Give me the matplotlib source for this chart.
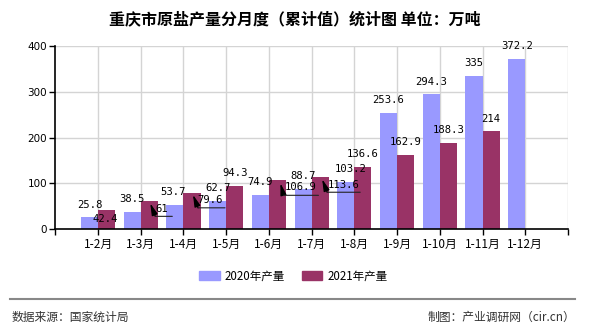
import numpy as np
import matplotlib
matplotlib.use('Agg')
import matplotlib.pyplot as plt
from matplotlib.transforms import offset_copy
from matplotlib.patches import Patch
from matplotlib.lines import Line2D

plt.rcParams['font.family'] = ['Noto Sans CJK SC', 'DejaVu Sans']

# ---------------- data ----------------
categories = ['1-2月', '1-3月', '1-4月', '1-5月', '1-6月', '1-7月',
              '1-8月', '1-9月', '1-10月', '1-11月', '1-12月']
v2020 = [25.8, 38.5, 53.7, 62.7, 74.9, 88.7, 103.2, 253.6, 294.3, 335, 372.2]
v2021 = [42.4, 61, 79.6, 94.3, 106.9, 113.6, 136.6, 162.9, 188.3, 214]
series_names = ['2020年产量', '2021年产量']
yticks = [0, 100, 200, 300, 400]
title = '重庆市原盐产量分月度（累计值）统计图 单位：万吨'
source = '数据来源：国家统计局'
credit = '制图：产业调研网（cir.cn）'

# ---------------- style ----------------
c2020 = '#9999FF'
c2021 = '#993366'
grid_c = '#d4d4d4'
W, H = 590, 330

fig = plt.figure(figsize=(W / 100, H / 100), dpi=100)
ax_l, ax_r, ax_t, ax_b = 55.3, 568, 46, 229.3
ax = fig.add_axes([ax_l / W, 1 - ax_b / H, (ax_r - ax_l) / W, (ax_b - ax_t) / H])

x = np.arange(len(categories))
w = 0.4
ax.set_xlim(-1, len(categories))
ax.set_ylim(yticks[0], yticks[-1])

# grid
ax.hlines(yticks[1:], -1, len(categories), color=grid_c, lw=1, zorder=0)
ax.vlines(np.arange(0, len(categories) + 1), 0, yticks[-1], color=grid_c, lw=1, zorder=0)

x21 = x[:len(v2021)]
ax.bar(x - w / 2, v2020, w, color=c2020, zorder=2, linewidth=0)
ax.bar(x21 + w / 2, v2021, w, color=c2021, zorder=2, linewidth=0)

for s in ['top', 'right']:
    ax.spines[s].set_visible(False)
for s in ['left', 'bottom']:
    ax.spines[s].set_color('black')
    ax.spines[s].set_linewidth(1.2)
    ax.spines[s].set_zorder(3)

ax.set_yticks(yticks)
ax.set_yticklabels([str(t) for t in yticks], family='DejaVu Sans', fontsize=7.5)
ax.set_xticks(np.arange(-1, len(categories) + 1))
ax.set_xticklabels([''] + categories + [''], fontsize=8.5)
ax.tick_params(axis='both', direction='out', length=4, width=1, color='black', labelcolor='black')
ax.tick_params(axis='y', pad=2)
ax.tick_params(axis='x', pad=2)

# ---------------- value labels ----------------
lab_font = dict(family='DejaVu Sans Mono', fontsize=7.6, color='black')
PX = 0.72  # points per pixel
normal_up = 12.7  # px above bar top (label center)

# special placements (pixel offsets from bar top-center, +right, +down)
shift2020 = {2: (-2, 0), 6: (4.5, 0)}
down2021 = {0: (-1, 9)}
leader2021 = {  # text(dx,dy), tip(dx,dy), corner(dx,dy), end dx
    1: ((12, 8), (1, 2), (6, 15), 23),
    2: ((18, 7), (1, 2), (6, 15), 33),
    4: ((23, 7), (3, 3), (6, 15), 41),
    5: ((23, 8), (2, 2), (7, 15), 40),
}


def off(dx, dy):
    return offset_copy(ax.transData, fig=fig, x=dx, y=-dy, units='dots')


for i, v in enumerate(v2020):
    xc = x[i] - w / 2
    dx, dy = shift2020.get(i, (0, 0))
    ax.annotate(f'{v:g}', (xc, v), xytext=(dx * PX, (normal_up - dy) * PX),
                textcoords='offset points', ha='center', va='center', zorder=5, **lab_font)

for i, v in enumerate(v2021):
    xc = x21[i] + w / 2
    if i in leader2021:
        (tdx, tdy), (pdx, pdy), (cdx, cdy), edx = leader2021[i]
        ax.annotate(f'{v:g}', (xc, v), xytext=(tdx * PX, -tdy * PX),
                    textcoords='offset points', ha='center', va='center', zorder=5, **lab_font)
        ax.annotate('', xy=(xc, v), xycoords=off(pdx, pdy),
                    xytext=(xc, v), textcoords=off(cdx, cdy),
                    arrowprops=dict(arrowstyle='-|>,head_length=0.7,head_width=0.18',
                                    color='black', lw=0.9, shrinkA=0, shrinkB=0),
                    zorder=5)
        ax.annotate('', xy=(xc, v), xycoords=off(edx, cdy),
                    xytext=(xc, v), textcoords=off(cdx, cdy),
                    arrowprops=dict(arrowstyle='-', color='#222222', lw=0.8,
                                    shrinkA=0, shrinkB=0),
                    zorder=5)
    else:
        dx, dy = down2021.get(i, (0, -normal_up))
        ax.annotate(f'{v:g}', (xc, v), xytext=(dx * PX, -dy * PX),
                    textcoords='offset points', ha='center', va='center', zorder=5, **lab_font)

# ---------------- title, legend, footer ----------------
fig.text(0.5, 1 - 19 / H, title, ha='center', va='center', fontsize=11.5, weight='bold')

handles = [Patch(color=c2020), Patch(color=c2021)]
fig.legend(handles, series_names, loc='center', bbox_to_anchor=(293 / W, 1 - 276 / H),
           ncol=2, frameon=False, fontsize=8.3, handlelength=1.8, handleheight=0.8,
           handletextpad=0.4, columnspacing=1.5)

fig.add_artist(Line2D([10 / W, 575 / W], [1 - 299 / H] * 2, color='#888888', lw=1.5))
fig.text(12 / W, 1 - 317 / H, source, ha='left', va='center', fontsize=8.5, color='#333333')
fig.text(575 / W, 1 - 317 / H, credit, ha='right', va='center', fontsize=8.5, color='#333333')

fig.savefig('out.png', dpi=100)
